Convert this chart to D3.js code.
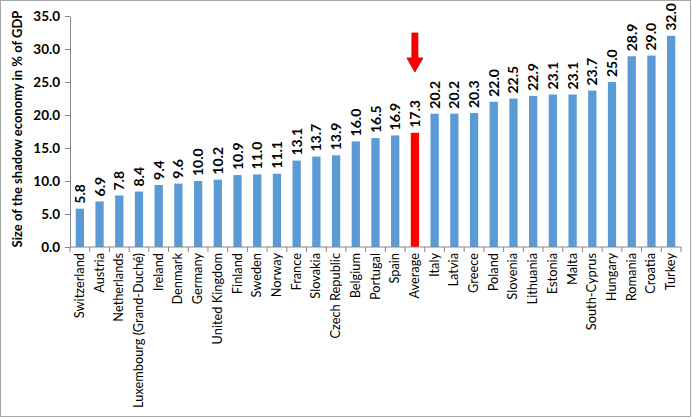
<!DOCTYPE html>
<html><head><meta charset="utf-8">
<script src="https://cdn.jsdelivr.net/npm/d3@7/dist/d3.min.js"></script>
<style>body{margin:0;background:#fff}svg{display:block}text{font-family:Lato,"Open Sans",sans-serif}</style>
</head><body>
<svg id="c" width="692" height="418"></svg>
<script>
const categories = ["Switzerland","Austria","Netherlands","Luxembourg (Grand-Duché)","Ireland","Denmark","Germany","United Kingdom","Finland","Sweden","Norway","France","Slovakia","Czech Republic","Belgium","Portugal","Spain","Average","Italy","Latvia","Greece","Poland","Slovenia","Lithuania","Estonia","Malta","South-Cyprus","Hungary","Romania","Croatia","Turkey"];
const values = [5.8,6.9,7.8,8.4,9.4,9.6,10.0,10.2,10.9,11.0,11.1,13.1,13.7,13.9,16.0,16.5,16.9,17.3,20.2,20.2,20.3,22.0,22.5,22.9,23.1,23.1,23.7,25.0,28.9,29.0,32.0];
const yTicks = [0,5,10,15,20,25,30,35];
const highlight = "Average";
const yTitle = "Size of the shadow economy in % of GDP";

const svg = d3.select("#c");
svg.append("rect").attr("x",0.5).attr("y",0.5).attr("width",690).attr("height",416).attr("fill","#fff").attr("stroke","#a6a6a6");
const m = {l:70, r:11, t:16, b:171};
const W = 692, H = 418;
const x = d3.scaleBand().domain(categories).range([m.l, W-m.r]).paddingInner(0.58).paddingOuter(0.29);
const y = d3.scaleLinear().domain([0,35]).range([H-m.b, m.t]);
const g = svg.append("g");
const grey = "#868686";

// y axis
const ya = g.append("g").attr("transform",`translate(${m.l},0)`).call(d3.axisLeft(y).tickValues(yTicks).tickFormat(d3.format(".1f")).tickSize(5).tickSizeOuter(0));
ya.select(".domain").attr("stroke",grey);
ya.selectAll(".tick line").attr("stroke",grey);
ya.selectAll("text").attr("font-size",13.5).attr("font-weight","bold").attr("fill","#000").attr("dx",-2);

// bars
g.selectAll(".bar").data(categories).join("rect")
 .attr("x",d=>x(d)).attr("width",x.bandwidth())
 .attr("y",(d,i)=>y(values[i])).attr("height",(d,i)=>y(0)-y(values[i]))
 .attr("fill",d=>d===highlight?"#ff0000":"#5b9bd5");

// x axis
const xa = g.append("g").attr("transform",`translate(0,${y(0)})`);
xa.append("line").attr("x1",m.l).attr("x2",W-m.r).attr("stroke",grey);
const bounds = d3.range(categories.length+1).map(i=>m.l + i*(W-m.r-m.l)/categories.length);
xa.selectAll(".tk").data(bounds).join("line").attr("x1",d=>d).attr("x2",d=>d).attr("y1",0).attr("y2",5).attr("stroke",grey);
xa.selectAll(".lbl").data(categories).join("text")
 .attr("transform",d=>`translate(${x(d)+x.bandwidth()/2+4},6) rotate(-90)`)
 .attr("text-anchor","end").attr("font-size",12.8).attr("fill","#000").text(d=>d);

// value labels
g.selectAll(".val").data(categories).join("text")
 .attr("transform",(d,i)=>`translate(${x(d)+x.bandwidth()/2+5},${y(values[i])-5}) rotate(-90)`)
 .attr("text-anchor","start").attr("font-size",14).attr("font-weight","bold").attr("fill","#000")
 .text((d,i)=>values[i].toFixed(1));

// y title
svg.append("text").attr("transform",`translate(22,129) rotate(-90)`).attr("text-anchor","middle")
 .attr("font-size",13).attr("font-weight","bold").text(yTitle);

// red arrow above average
const ax = x(highlight)+x.bandwidth()/2;
svg.append("path").attr("d",`M${ax-3},${33} L${ax+3},${33} L${ax+3},${58} L${ax+8},${58} L${ax},${72} L${ax-8},${58} L${ax-3},${58} Z`)
 .attr("fill","#ff0000").attr("stroke","#c00000").attr("stroke-width",0.8);
</script>
</body></html>
